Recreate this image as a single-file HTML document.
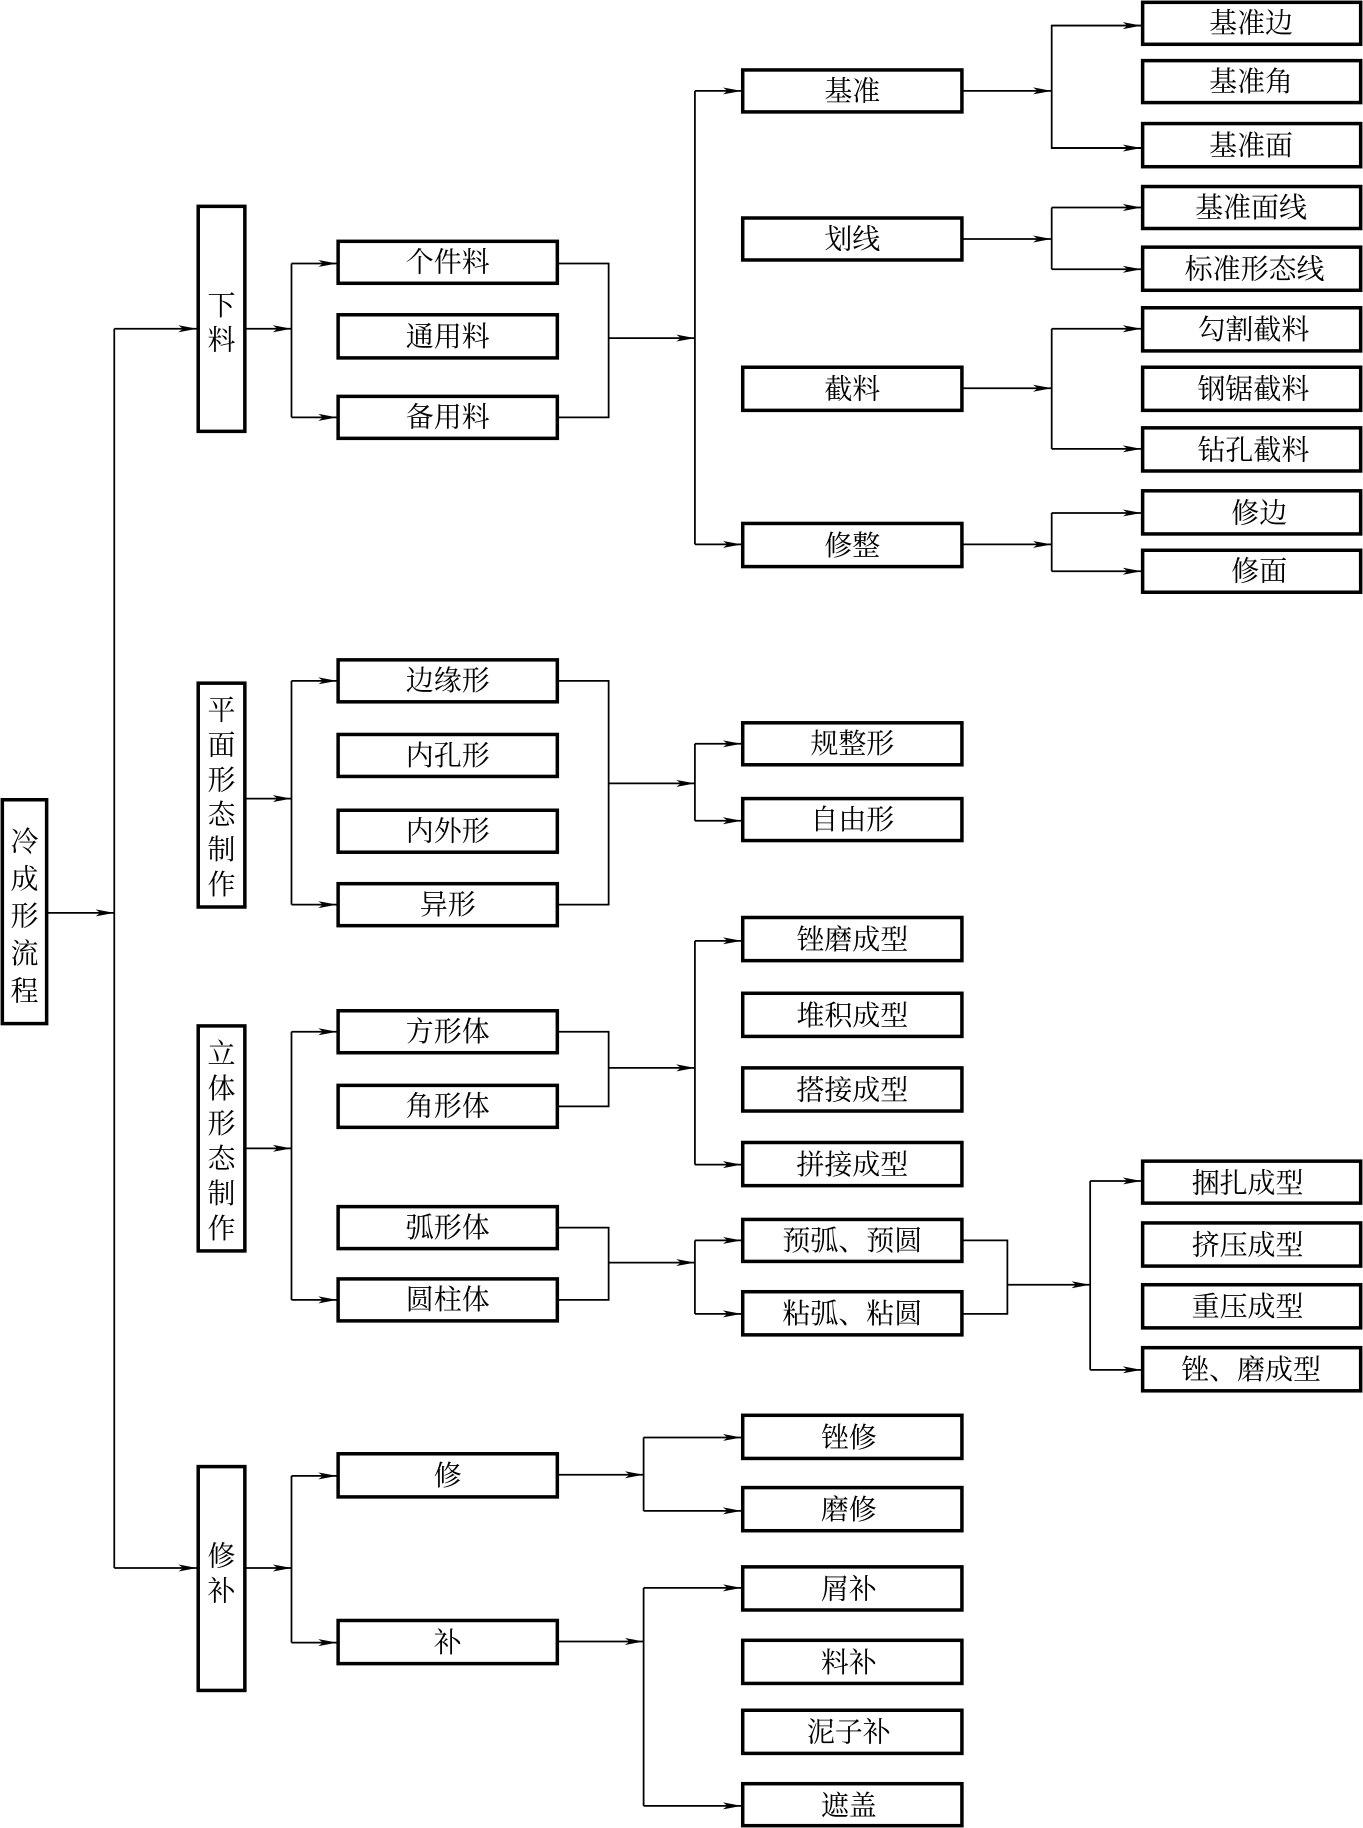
<!DOCTYPE html>
<html><head><meta charset="utf-8"><style>
html,body{margin:0;padding:0;background:#fff;}
svg{display:block;}
text{font-family:"Liberation Serif","Noto Serif CJK SC",serif;font-size:24px;fill:#000;}
</style></head><body>
<svg width="1363" height="1828" viewBox="0 0 1169 1568" xmlns="http://www.w3.org/2000/svg" preserveAspectRatio="none">
<defs><marker id="a" markerWidth="16" markerHeight="8" refX="16" refY="4" orient="auto" markerUnits="userSpaceOnUse"><path d="M0,1 L16,4 L0,7 L4,4 Z" fill="#000"/></marker></defs>
<g fill="none" stroke="#000" stroke-width="3">
<rect x="2" y="686" width="38" height="192"/>
<rect x="170" y="177" width="40" height="193"/>
<rect x="170" y="586" width="40" height="192"/>
<rect x="170" y="880" width="40" height="193"/>
<rect x="170" y="1258" width="40" height="192"/>
<!-- level2 -->
<rect x="290" y="207" width="188" height="36"/>
<rect x="290" y="270" width="188" height="37"/>
<rect x="290" y="340" width="188" height="36"/>
<rect x="290" y="566" width="188" height="36"/>
<rect x="290" y="630" width="188" height="36"/>
<rect x="290" y="695" width="188" height="36"/>
<rect x="290" y="758" width="188" height="36"/>
<rect x="290" y="867" width="188" height="36"/>
<rect x="290" y="931" width="188" height="36"/>
<rect x="290" y="1035" width="188" height="36"/>
<rect x="290" y="1097" width="188" height="36"/>
<rect x="290" y="1247" width="188" height="37"/>
<rect x="290" y="1390" width="188" height="37"/>
<!-- level3 -->
<rect x="637" y="60" width="188" height="36"/>
<rect x="637" y="187" width="188" height="36"/>
<rect x="637" y="315" width="188" height="37"/>
<rect x="637" y="449" width="188" height="37"/>
<rect x="637" y="620" width="188" height="36"/>
<rect x="637" y="685" width="188" height="36"/>
<rect x="637" y="787" width="188" height="37"/>
<rect x="637" y="852" width="188" height="37"/>
<rect x="637" y="916" width="188" height="37"/>
<rect x="637" y="980" width="188" height="37"/>
<rect x="637" y="1046" width="188" height="36"/>
<rect x="637" y="1108" width="188" height="37"/>
<rect x="637" y="1214" width="188" height="37"/>
<rect x="637" y="1276" width="188" height="37"/>
<rect x="637" y="1344" width="188" height="37"/>
<rect x="637" y="1407" width="188" height="37"/>
<rect x="637" y="1467" width="188" height="37"/>
<rect x="637" y="1530" width="188" height="36"/>
<!-- level4 -->
<rect x="980" y="2" width="187" height="36"/>
<rect x="980" y="52" width="187" height="36"/>
<rect x="980" y="106" width="187" height="37"/>
<rect x="980" y="160" width="187" height="36"/>
<rect x="980" y="212" width="187" height="37"/>
<rect x="980" y="264" width="187" height="37"/>
<rect x="980" y="315" width="187" height="37"/>
<rect x="980" y="367" width="187" height="37"/>
<rect x="980" y="421" width="187" height="37"/>
<rect x="980" y="472" width="187" height="36"/>
<rect x="980" y="996" width="187" height="36"/>
<rect x="980" y="1049" width="187" height="37"/>
<rect x="980" y="1102" width="187" height="37"/>
<rect x="980" y="1156" width="187" height="37"/>
</g>
<g fill="none" stroke="#000" stroke-width="1.5">
<line x1="98" y1="282" x2="98" y2="1345"/>
<line x1="40" y1="783" x2="98" y2="783" marker-end="url(#a)"/>
<line x1="98" y1="282" x2="169" y2="282" marker-end="url(#a)"/>
<line x1="98" y1="1345" x2="169" y2="1345" marker-end="url(#a)"/>
<!-- 下料 -->
<line x1="210" y1="282" x2="250" y2="282" marker-end="url(#a)"/>
<line x1="250" y1="226" x2="250" y2="358"/>
<line x1="250" y1="226" x2="289" y2="226" marker-end="url(#a)"/>
<line x1="250" y1="358" x2="289" y2="358" marker-end="url(#a)"/>
<polyline points="478,226 522,226 522,358 478,358"/>
<line x1="522" y1="290" x2="596" y2="290" marker-end="url(#a)"/>
<line x1="596" y1="78" x2="596" y2="467"/>
<line x1="596" y1="78" x2="636" y2="78" marker-end="url(#a)"/>
<line x1="596" y1="467" x2="636" y2="467" marker-end="url(#a)"/>
<line x1="825" y1="78" x2="902" y2="78" marker-end="url(#a)"/>
<polyline points="979,22 902,22 902,127 979,127"/>
<line x1="902" y1="22" x2="979" y2="22" marker-end="url(#a)"/>
<line x1="902" y1="127" x2="979" y2="127" marker-end="url(#a)"/>
<line x1="825" y1="205" x2="902" y2="205" marker-end="url(#a)"/>
<line x1="902" y1="178" x2="902" y2="231"/>
<line x1="902" y1="178" x2="979" y2="178" marker-end="url(#a)"/>
<line x1="902" y1="231" x2="979" y2="231" marker-end="url(#a)"/>
<line x1="825" y1="333" x2="902" y2="333" marker-end="url(#a)"/>
<line x1="902" y1="282" x2="902" y2="385"/>
<line x1="902" y1="282" x2="979" y2="282" marker-end="url(#a)"/>
<line x1="902" y1="385" x2="979" y2="385" marker-end="url(#a)"/>
<line x1="825" y1="467" x2="902" y2="467" marker-end="url(#a)"/>
<line x1="902" y1="440" x2="902" y2="490"/>
<line x1="902" y1="440" x2="979" y2="440" marker-end="url(#a)"/>
<line x1="902" y1="490" x2="979" y2="490" marker-end="url(#a)"/>
<!-- 平面 -->
<line x1="210" y1="685" x2="250" y2="685" marker-end="url(#a)"/>
<line x1="250" y1="584" x2="250" y2="776"/>
<line x1="250" y1="584" x2="289" y2="584" marker-end="url(#a)"/>
<line x1="250" y1="776" x2="289" y2="776" marker-end="url(#a)"/>
<polyline points="478,584 522,584 522,776 478,776"/>
<line x1="522" y1="672" x2="596" y2="672" marker-end="url(#a)"/>
<line x1="596" y1="638" x2="596" y2="704"/>
<line x1="596" y1="638" x2="636" y2="638" marker-end="url(#a)"/>
<line x1="596" y1="704" x2="636" y2="704" marker-end="url(#a)"/>
<!-- 立体 -->
<line x1="210" y1="985" x2="250" y2="985" marker-end="url(#a)"/>
<line x1="250" y1="885" x2="250" y2="1115"/>
<line x1="250" y1="885" x2="289" y2="885" marker-end="url(#a)"/>
<line x1="250" y1="1115" x2="289" y2="1115" marker-end="url(#a)"/>
<polyline points="478,885 522,885 522,949 478,949"/>
<line x1="522" y1="916" x2="596" y2="916" marker-end="url(#a)"/>
<line x1="596" y1="807" x2="596" y2="999"/>
<line x1="596" y1="807" x2="636" y2="807" marker-end="url(#a)"/>
<line x1="596" y1="999" x2="636" y2="999" marker-end="url(#a)"/>
<polyline points="478,1053 522,1053 522,1115 478,1115"/>
<line x1="522" y1="1083" x2="596" y2="1083" marker-end="url(#a)"/>
<line x1="596" y1="1064" x2="596" y2="1127"/>
<line x1="596" y1="1064" x2="636" y2="1064" marker-end="url(#a)"/>
<line x1="596" y1="1127" x2="636" y2="1127" marker-end="url(#a)"/>
<polyline points="825,1064 864,1064 864,1127 825,1127"/>
<line x1="864" y1="1102" x2="935" y2="1102" marker-end="url(#a)"/>
<line x1="935" y1="1013" x2="935" y2="1175"/>
<line x1="935" y1="1013" x2="979" y2="1013" marker-end="url(#a)"/>
<line x1="935" y1="1175" x2="979" y2="1175" marker-end="url(#a)"/>
<!-- 修补 -->
<line x1="210" y1="1345" x2="250" y2="1345" marker-end="url(#a)"/>
<line x1="250" y1="1266" x2="250" y2="1409"/>
<line x1="250" y1="1266" x2="289" y2="1266" marker-end="url(#a)"/>
<line x1="250" y1="1409" x2="289" y2="1409" marker-end="url(#a)"/>
<line x1="478" y1="1265" x2="552" y2="1265" marker-end="url(#a)"/>
<line x1="552" y1="1233" x2="552" y2="1296"/>
<line x1="552" y1="1233" x2="636" y2="1233" marker-end="url(#a)"/>
<line x1="552" y1="1296" x2="636" y2="1296" marker-end="url(#a)"/>
<line x1="478" y1="1408" x2="552" y2="1408" marker-end="url(#a)"/>
<line x1="552" y1="1362" x2="552" y2="1549"/>
<line x1="552" y1="1362" x2="636" y2="1362" marker-end="url(#a)"/>
<line x1="552" y1="1549" x2="636" y2="1549" marker-end="url(#a)"/>
</g>
<g text-anchor="middle">
<text x="21" y="730">冷</text><text x="21" y="762">成</text><text x="21" y="794">形</text><text x="21" y="826">流</text><text x="21" y="858">程</text>
<text x="190" y="270">下</text><text x="190" y="300">料</text>
<text x="190" y="617">平</text><text x="190" y="647">面</text><text x="190" y="677">形</text><text x="190" y="707">态</text><text x="190" y="737">制</text><text x="190" y="767">作</text>
<text x="190" y="912">立</text><text x="190" y="942">体</text><text x="190" y="972">形</text><text x="190" y="1002">态</text><text x="190" y="1032">制</text><text x="190" y="1062">作</text>
<text x="190" y="1343">修</text><text x="190" y="1373">补</text>
<text x="384" y="233">个件料</text><text x="384" y="297">通用料</text><text x="384" y="366">备用料</text>
<text x="384" y="592">边缘形</text><text x="384" y="656">内孔形</text><text x="384" y="721">内外形</text><text x="384" y="784">异形</text>
<text x="384" y="893">方形体</text><text x="384" y="957">角形体</text><text x="384" y="1061">弧形体</text><text x="384" y="1123">圆柱体</text>
<text x="384" y="1274">修</text><text x="384" y="1417">补</text>
<text x="731" y="86">基准</text><text x="731" y="213">划线</text><text x="731" y="342">截料</text><text x="731" y="476">修整</text>
<text x="731" y="646">规整形</text><text x="731" y="711">自由形</text>
<text x="731" y="814">锉磨成型</text><text x="731" y="879">堆积成型</text><text x="731" y="943">搭接成型</text><text x="731" y="1007">拼接成型</text>
<text x="731" y="1072">预弧、预圆</text><text x="731" y="1135">粘弧、粘圆</text>
<text x="728" y="1241">锉修</text><text x="728" y="1303">磨修</text>
<text x="728" y="1371">屑补</text><text x="728" y="1434">料补</text><text x="728" y="1494">泥子补</text><text x="728" y="1557">遮盖</text>
<text x="1073" y="28">基准边</text><text x="1073" y="78">基准角</text><text x="1073" y="133">基准面</text><text x="1073" y="186">基准面线</text><text x="1076" y="239">标准形态线</text>
<text x="1075" y="291">勾割截料</text><text x="1075" y="342">钢锯截料</text><text x="1075" y="394">钻孔截料</text><text x="1080" y="448">修边</text><text x="1080" y="498">修面</text>
<text x="1070" y="1023">捆扎成型</text><text x="1070" y="1076">挤压成型</text><text x="1070" y="1129">重压成型</text><text x="1073" y="1183">锉、磨成型</text>
</g>
</svg>
</body></html>
